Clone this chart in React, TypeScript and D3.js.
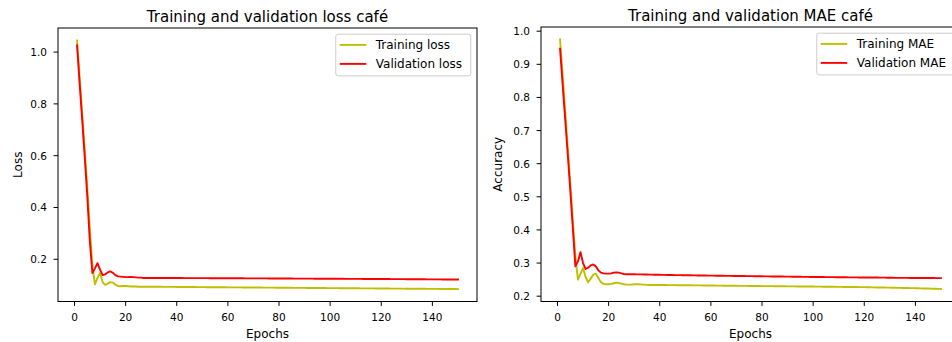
import React from 'react';
import * as d3 from 'd3';

const epochs = d3.range(1, 151);

const lossTrain = [
  1.045, 0.905, 0.765, 0.625, 0.48, 0.32, 0.175, 0.103, 0.128, 0.147,
  0.112, 0.101, 0.106, 0.112, 0.110, 0.102, 0.097, 0.096, 0.097, 0.097,
  0.096, 0.095, 0.095, 0.095, 0.094, 0.094, 0.094, 0.094, 0.094, 0.094,
  0.0939, 0.0938, 0.0938, 0.0937, 0.0936, 0.0935, 0.0935, 0.0934, 0.0933, 0.0932,
  0.0932, 0.0931, 0.0930, 0.0929, 0.0929, 0.0928, 0.0927, 0.0926, 0.0926, 0.0925,
  0.0924, 0.0923, 0.0923, 0.0922, 0.0921, 0.0920, 0.0920, 0.0919, 0.0918, 0.0917,
  0.0917, 0.0916, 0.0915, 0.0914, 0.0914, 0.0913, 0.0912, 0.0911, 0.0911, 0.0910,
  0.0909, 0.0908, 0.0908, 0.0907, 0.0906, 0.0905, 0.0905, 0.0904, 0.0903, 0.0902,
  0.0902, 0.0901, 0.0900, 0.0899, 0.0899, 0.0898, 0.0897, 0.0896, 0.0896, 0.0895,
  0.0894, 0.0893, 0.0893, 0.0892, 0.0891, 0.0890, 0.0890, 0.0889, 0.0888, 0.0887,
  0.0887, 0.0886, 0.0885, 0.0884, 0.0884, 0.0883, 0.0882, 0.0881, 0.0881, 0.0880,
  0.0879, 0.0878, 0.0878, 0.0877, 0.0876, 0.0875, 0.0875, 0.0874, 0.0873, 0.0872,
  0.0872, 0.0871, 0.0870, 0.0869, 0.0869, 0.0868, 0.0867, 0.0866, 0.0866, 0.0865,
  0.0864, 0.0863, 0.0863, 0.0862, 0.0861, 0.0860, 0.0860, 0.0859, 0.0858, 0.0857,
  0.0857, 0.0856, 0.0855, 0.0854, 0.0854, 0.0853, 0.0852, 0.0851, 0.0851, 0.0850,
];

const lossVal = [
  1.026, 0.88, 0.74, 0.595, 0.445, 0.27, 0.147, 0.165, 0.185, 0.16,
  0.139, 0.142, 0.149, 0.153, 0.148, 0.139, 0.134, 0.133, 0.132, 0.131,
  0.131, 0.132, 0.131, 0.130, 0.129, 0.129, 0.128, 0.128, 0.128, 0.128,
  0.1279, 0.1279, 0.1278, 0.1278, 0.1278, 0.1277, 0.1277, 0.1276, 0.1276, 0.1276,
  0.1275, 0.1275, 0.1274, 0.1274, 0.1274, 0.1273, 0.1273, 0.1272, 0.1272, 0.1272,
  0.1271, 0.1271, 0.1270, 0.1270, 0.1270, 0.1269, 0.1269, 0.1268, 0.1268, 0.1267,
  0.1267, 0.1266, 0.1266, 0.1266, 0.1265, 0.1265, 0.1264, 0.1264, 0.1263, 0.1263,
  0.1262, 0.1262, 0.1262, 0.1261, 0.1261, 0.1260, 0.1260, 0.1259, 0.1259, 0.1258,
  0.1258, 0.1257, 0.1257, 0.1256, 0.1256, 0.1255, 0.1255, 0.1254, 0.1254, 0.1253,
  0.1253, 0.1252, 0.1252, 0.1251, 0.1251, 0.1250, 0.1250, 0.1249, 0.1249, 0.1248,
  0.1248, 0.1247, 0.1247, 0.1246, 0.1246, 0.1245, 0.1245, 0.1244, 0.1243, 0.1243,
  0.1242, 0.1242, 0.1241, 0.1241, 0.1240, 0.1240, 0.1239, 0.1238, 0.1238, 0.1237,
  0.1237, 0.1236, 0.1236, 0.1235, 0.1234, 0.1234, 0.1233, 0.1233, 0.1232, 0.1231,
  0.1231, 0.1230, 0.1230, 0.1229, 0.1228, 0.1228, 0.1227, 0.1226, 0.1226, 0.1225,
  0.1224, 0.1224, 0.1223, 0.1222, 0.1222, 0.1221, 0.1220, 0.1220, 0.1219, 0.1218,
];

const maeTrain = [
  0.975, 0.87, 0.76, 0.65, 0.54, 0.43, 0.32, 0.250, 0.268, 0.285,
  0.258, 0.242, 0.253, 0.265, 0.268, 0.255, 0.242, 0.237, 0.236, 0.236,
  0.237, 0.239, 0.241, 0.240, 0.238, 0.236, 0.235, 0.235, 0.235, 0.236,
  0.236, 0.236, 0.235, 0.235, 0.234, 0.2339, 0.2339, 0.2339, 0.2338, 0.2338,
  0.2337, 0.2336, 0.2335, 0.2335, 0.2334, 0.2333, 0.2332, 0.2331, 0.2331, 0.2330,
  0.2329, 0.2328, 0.2327, 0.2327, 0.2326, 0.2325, 0.2324, 0.2323, 0.2323, 0.2322,
  0.2321, 0.2320, 0.2319, 0.2318, 0.2317, 0.2316, 0.2316, 0.2315, 0.2314, 0.2313,
  0.2312, 0.2311, 0.2310, 0.2310, 0.2309, 0.2308, 0.2307, 0.2306, 0.2306, 0.2305,
  0.2304, 0.2303, 0.2302, 0.2302, 0.2301, 0.2300, 0.2299, 0.2298, 0.2298, 0.2297,
  0.2296, 0.2295, 0.2295, 0.2294, 0.2293, 0.2293, 0.2292, 0.2291, 0.2291, 0.2290,
  0.2289, 0.2288, 0.2287, 0.2286, 0.2285, 0.2284, 0.2283, 0.2283, 0.2282, 0.2281,
  0.2280, 0.2279, 0.2278, 0.2277, 0.2276, 0.2276, 0.2275, 0.2274, 0.2273, 0.2272,
  0.2270, 0.2269, 0.2267, 0.2266, 0.2264, 0.2263, 0.2261, 0.2260, 0.2258, 0.2257,
  0.2255, 0.2253, 0.2252, 0.2250, 0.2248, 0.2247, 0.2245, 0.2243, 0.2242, 0.2240,
  0.2238, 0.2236, 0.2234, 0.2232, 0.2230, 0.2228, 0.2225, 0.2222, 0.2219, 0.2216,
];

const maeVal = [
  0.947, 0.84, 0.735, 0.63, 0.52, 0.405, 0.29, 0.305, 0.333, 0.300,
  0.282, 0.286, 0.293, 0.296, 0.290, 0.278, 0.271, 0.269, 0.268, 0.268,
  0.269, 0.271, 0.272, 0.271, 0.269, 0.267, 0.266, 0.266, 0.266, 0.266,
  0.2659, 0.2659, 0.2658, 0.2656, 0.2654, 0.2652, 0.2650, 0.2649, 0.2647, 0.2645,
  0.2644, 0.2643, 0.2641, 0.2640, 0.2639, 0.2637, 0.2636, 0.2635, 0.2633, 0.2632,
  0.2631, 0.2630, 0.2628, 0.2627, 0.2626, 0.2625, 0.2624, 0.2623, 0.2621, 0.2620,
  0.2619, 0.2618, 0.2617, 0.2616, 0.2615, 0.2614, 0.2613, 0.2612, 0.2611, 0.2610,
  0.2609, 0.2608, 0.2607, 0.2606, 0.2605, 0.2604, 0.2603, 0.2602, 0.2601, 0.2600,
  0.2599, 0.2598, 0.2597, 0.2596, 0.2595, 0.2594, 0.2593, 0.2592, 0.2591, 0.2590,
  0.2589, 0.2588, 0.2587, 0.2586, 0.2585, 0.2584, 0.2583, 0.2582, 0.2581, 0.2580,
  0.2579, 0.2579, 0.2578, 0.2577, 0.2576, 0.2575, 0.2575, 0.2574, 0.2573, 0.2572,
  0.2571, 0.2571, 0.2570, 0.2569, 0.2568, 0.2568, 0.2567, 0.2566, 0.2566, 0.2565,
  0.2564, 0.2564, 0.2563, 0.2562, 0.2562, 0.2561, 0.2560, 0.2559, 0.2557, 0.2555,
  0.2555, 0.2554, 0.2554, 0.2553, 0.2553, 0.2552, 0.2552, 0.2551, 0.2551, 0.2550,
  0.2550, 0.2549, 0.2549, 0.2548, 0.2548, 0.2547, 0.2547, 0.2546, 0.2546, 0.2545,
];

const xTicks = [0, 20, 40, 60, 80, 100, 120, 140];
const lossYTicks = [0.2, 0.4, 0.6, 0.8, 1.0];
const maeYTicks = [0.2, 0.3, 0.4, 0.5, 0.6, 0.7, 0.8, 0.9, 1.0];

const W = 952;
const H = 342;
const FONT = "'DejaVu Sans', sans-serif";
const TRAIN_COLOR = '#bfbf00';
const VAL_COLOR = '#ff0000';

type PanelProps = {
  left: number; right: number; top: number; bottom: number;
  title: string; ylabel: string; ylabelX: number;
  train: number[]; val: number[];
  trainLabel: string; valLabel: string;
  yTicks: number[]; legendW: number;
};

function Panel(p: PanelProps) {
  const xs = d3.scaleLinear().domain([1 - 149 * 0.05, 150 + 149 * 0.05]).range([p.left, p.right]);
  const all = p.train.concat(p.val);
  const [mn, mx] = d3.extent(all) as [number, number];
  const m = (mx - mn) * 0.05;
  const ys = d3.scaleLinear().domain([mn - m, mx + m]).range([p.bottom, p.top]);
  const line = d3.line<number>().x((_, i) => xs(epochs[i])).y((d) => ys(d));
  const clipId = 'clip' + Math.round(p.left);
  const lgRight = p.right - 6.25;
  const lgLeft = lgRight - p.legendW;
  const lgTop = p.top + 6.2;
  const midY = (p.top + p.bottom) / 2;
  return (
    <g>
      <defs>
        <clipPath id={clipId}>
          <rect x={p.left} y={p.top} width={p.right - p.left} height={p.bottom - p.top} />
        </clipPath>
      </defs>
      <g clipPath={`url(#${clipId})`}>
        <path d={line(p.train) || ''} fill="none" stroke={TRAIN_COLOR} strokeWidth={1.9} strokeLinejoin="round" strokeLinecap="square" />
        <path d={line(p.val) || ''} fill="none" stroke={VAL_COLOR} strokeWidth={1.9} strokeLinejoin="round" strokeLinecap="square" />
      </g>
      <rect x={p.left} y={p.top} width={p.right - p.left} height={p.bottom - p.top} fill="none" stroke="#000" strokeWidth={1} />
      {xTicks.map((t) => (
        <g key={'x' + t}>
          <line x1={xs(t)} x2={xs(t)} y1={p.bottom} y2={p.bottom + 4.4} stroke="#000" strokeWidth={1} />
          <text x={xs(t)} y={p.bottom + 19} textAnchor="middle" fontSize={10.5} fontFamily={FONT} fill="#000">{t}</text>
        </g>
      ))}
      {p.yTicks.map((t) => (
        <g key={'y' + t}>
          <line x1={p.left - 4.4} x2={p.left} y1={ys(t)} y2={ys(t)} stroke="#000" strokeWidth={1} />
          <text x={p.left - 11} y={ys(t) + 4} textAnchor="end" fontSize={10.5} fontFamily={FONT} fill="#000">{t.toFixed(1)}</text>
        </g>
      ))}
      <text x={(p.left + p.right) / 2} y={p.bottom + 36.5} textAnchor="middle" fontSize={12} fontFamily={FONT} fill="#000">Epochs</text>
      <text transform={`translate(${p.ylabelX},${midY}) rotate(-90)`} textAnchor="middle" fontSize={12} fontFamily={FONT} fill="#000">{p.ylabel}</text>
      <text x={(p.left + p.right) / 2} y={p.top - 6.5} textAnchor="middle" fontSize={15} fontFamily={FONT} fill="#000">{p.title}</text>
      <g>
        <rect x={lgLeft} y={lgTop} width={p.legendW} height={41.7} rx={2.5} fill="#fff" fillOpacity={0.8} stroke="#cccccc" strokeWidth={1} />
        {[{ c: TRAIN_COLOR, t: p.trainLabel }, { c: VAL_COLOR, t: p.valLabel }].map((e, i) => (
          <g key={e.t}>
            <line x1={lgLeft + 4} x2={lgLeft + 30.5} y1={lgTop + 10.7 + i * 19} y2={lgTop + 10.7 + i * 19} stroke={e.c} strokeWidth={1.9} />
            <text x={lgLeft + 40} y={lgTop + 10.7 + i * 19 + 4.3} fontSize={12} fontFamily={FONT} fill="#000">{e.t}</text>
          </g>
        ))}
      </g>
    </g>
  );
}

export default function App() {
  return (
    <svg width={W} height={H} style={{ position: 'absolute', left: 0, top: 0, background: '#fff' }}>
      <rect x={0} y={0} width={W} height={H} fill="#fff" />
      <Panel left={58} right={477} top={28} bottom={301.5}
        title="Training and validation loss café" ylabel="Loss" ylabelX={21.5}
        train={lossTrain} val={lossVal} trainLabel="Training loss" valLabel="Validation loss"
        yTicks={lossYTicks} legendW={135} />
      <Panel left={541} right={960} top={27} bottom={301.5}
        title="Training and validation MAE café" ylabel="Accuracy" ylabelX={502}
        train={maeTrain} val={maeVal} trainLabel="Training MAE" valLabel="Validation MAE"
        yTicks={maeYTicks} legendW={137} />
    </svg>
  );
}
